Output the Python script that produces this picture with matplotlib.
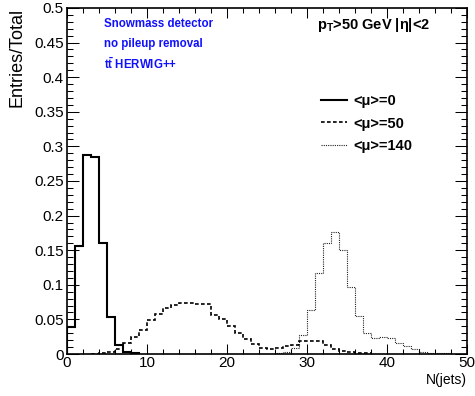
import numpy as np
import matplotlib
matplotlib.use("Agg")
import matplotlib.pyplot as plt
from matplotlib.ticker import MultipleLocator, FormatStrFormatter

plt.rcParams['font.family'] = ['Liberation Sans', 'DejaVu Sans']
plt.rcParams['mathtext.fontset'] = 'custom'
plt.rcParams['mathtext.rm'] = 'Liberation Sans:bold'
plt.rcParams['mathtext.bf'] = 'Liberation Sans:bold'
plt.rcParams['mathtext.it'] = 'Liberation Sans:bold'

# normalised N(jets) distributions, bins of width 1 starting at the given first bin
mu0_start = 0
mu0 = [0.039, 0.156, 0.288, 0.285, 0.161, 0.054, 0.013, 0.003, 0.001]

mu50_start = 3
mu50 = [0.0005, 0.001, 0.003, 0.007, 0.016, 0.024, 0.035, 0.049, 0.058, 0.066,
        0.071, 0.074, 0.073, 0.072, 0.072, 0.057, 0.050, 0.040, 0.031, 0.021,
        0.015, 0.009, 0.007, 0.008, 0.011, 0.013, 0.019, 0.019, 0.019, 0.013,
        0.007, 0.005, 0.003, 0.002, 0.001]

mu140_start = 26
mu140 = [0.001, 0.003, 0.008, 0.027, 0.064, 0.117, 0.160, 0.177, 0.150, 0.097,
         0.055, 0.030, 0.023, 0.025, 0.023, 0.016, 0.011, 0.007, 0.003, 0.002,
         0.002, 0.001]

labels = ['<\u03bc>=0', '<\u03bc>=50', '<\u03bc>=140']

fig = plt.figure(figsize=(4.75, 3.96), dpi=100)
ax = fig.add_axes([0.141, 0.106, 0.842, 0.874])

def edges(start, vals):
    return np.arange(start, start + len(vals) + 1)

h0 = ax.stairs(mu0, edges(mu0_start, mu0), color='black', lw=1.5, baseline=0)
h1 = ax.stairs(mu50, edges(mu50_start, mu50), color='black', lw=1.2,
               linestyle=(0, (2.2, 1.4)), baseline=0)
h2 = ax.stairs(mu140, edges(mu140_start, mu140), color='#222222', lw=0.8,
               linestyle=(0, (1, 1)), baseline=0)

ax.set_xlim(0, 50)
ax.set_ylim(0, 0.5)
ax.xaxis.set_major_locator(MultipleLocator(10))
ax.xaxis.set_minor_locator(MultipleLocator(2))
ax.yaxis.set_major_locator(MultipleLocator(0.05))
ax.yaxis.set_minor_locator(MultipleLocator(0.01))
ax.yaxis.set_major_formatter(FormatStrFormatter('%g'))

ax.tick_params(axis='both', which='both', direction='in', top=True, right=True,
               width=0.75, labelsize=11)
ax.tick_params(axis='y', which='major', length=8.6, pad=2.5)
ax.tick_params(axis='y', which='minor', length=4.3)
ax.tick_params(axis='x', which='major', length=7.5, pad=1.5)
ax.tick_params(axis='x', which='minor', length=3.7)
for s in ax.spines.values():
    s.set_linewidth(1.2)

ax.set_xlabel('N(jets)', fontsize=10, loc='right', labelpad=2)
ax.set_ylabel('Entries/Total', fontsize=13, loc='top')
ax.yaxis.set_label_coords(-0.1025, 1.0)

blue_txt = ['Snowmass detector', 'no pileup removal', r't$\bar{\mathrm{t}}$ HERWIG++']
for t, yy in zip(blue_txt, [0.954, 0.896, 0.838]):
    ax.text(0.0925, yy, t, transform=ax.transAxes, color='#1010ff',
            fontsize=8.3, fontweight='bold', va='center', ha='left')

ax.text(0.625, 0.951, 'p$_{\\mathrm{T}}$>50 GeV |\u03b7|<2', transform=ax.transAxes,
        fontsize=10.5, fontweight='bold', va='center', ha='left')

ax.legend([h0, h1, h2], labels, loc='upper left', bbox_to_anchor=(0.62, 0.768),
          frameon=False, handlelength=1.8, handletextpad=0.45, labelspacing=0.58,
          prop={'weight': 'bold', 'size': 10.5}, borderaxespad=0)

fig.savefig('out.png', dpi=100)
